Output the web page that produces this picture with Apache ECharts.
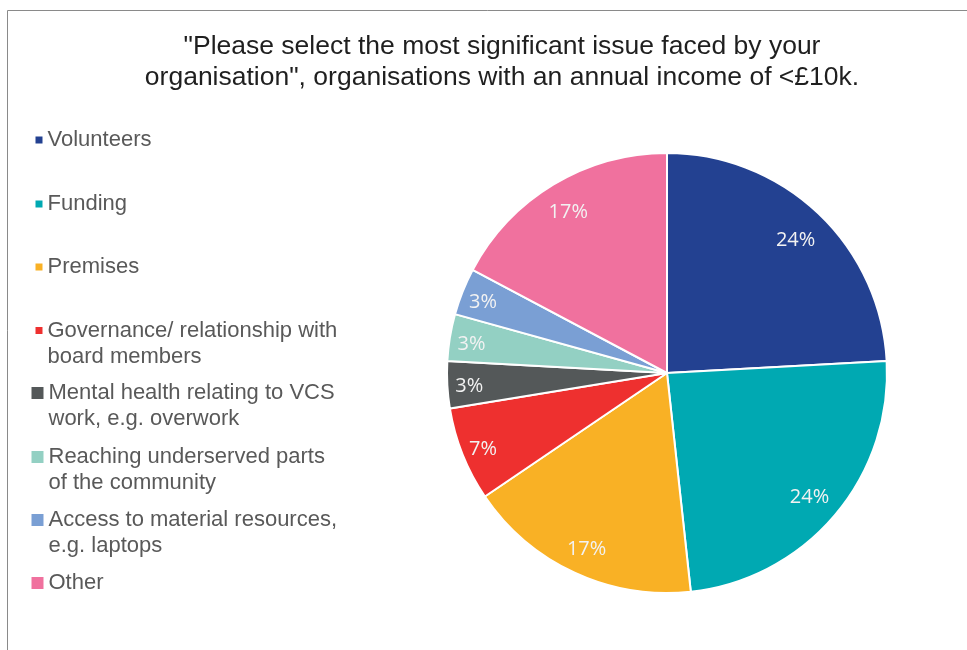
<!DOCTYPE html>
<html>
<head>
<meta charset="utf-8">
<title>Most significant issue, income under £10k</title>
<script src="https://cdn.jsdelivr.net/npm/echarts@6/dist/echarts.min.js"></script>
<style>
  html, body { margin: 0; padding: 0; background: #ffffff; }
  #chart { width: 967px; height: 650px; }
</style>
</head>
<body>
<div id="chart"></div>
<script>
// Survey categories (line breaks follow the legend wrapping)
const categories = [
  'Volunteers',
  'Funding',
  'Premises',
  'Governance/ relationship with\nboard members',
  'Mental health relating to VCS\nwork, e.g. overwork',
  'Reaching underserved parts\nof the community',
  'Access to material resources,\ne.g. laptops',
  'Other'
];
// Number of organisations choosing each issue
const responses = [7, 7, 5, 2, 1, 1, 1, 5];
const colors = ['#234191', '#00A9B2', '#F9B125', '#EE302F', '#545859', '#93D0C3', '#7A9FD4', '#F0719E'];

const titleText = '"Please select the most significant issue faced by your\norganisation", organisations with an annual income of <£10k.';

const pieCenter = [667, 373];
const pieRadius = 220;

// Legend layout: vertical centre of each entry's first line, and marker size
const legendLineCenters = [140, 204, 267, 330.5, 393, 457, 520, 583];
const legendIcon = [7, 7, 7, 7, 12, 12, 12, 12];
const LINE_H = 26;

const chart = echarts.init(document.getElementById('chart'), null, { renderer: 'canvas' });

const legends = categories.map(function (name, i) {
  const lines = name.split('\n').length;
  const s = legendIcon[i];
  const boxH = lines * LINE_H;
  // square marker aligned with the first text line; the two empty moves stretch
  // the marker box to the full height of the text block
  const top = LINE_H / 2 - s / 2;
  const iconPath = lines > 1
    ? 'path://M0,0L0,0M0,' + boxH + 'L0,' + boxH +
      'M0,' + top + 'H' + s + 'V' + (top + s) + 'H0Z'
    : 'rect';
  return {
    orient: 'vertical',
    left: s > 7 ? 31.5 : 35.5,
    top: legendLineCenters[i] - LINE_H / 2,
    padding: 0,
    itemWidth: s,
    itemHeight: lines > 1 ? boxH : s,
    icon: iconPath,
    itemStyle: { borderWidth: 0 },
    data: [name],
    textStyle: {
      fontFamily: 'Liberation Sans, Arial, sans-serif',
      fontSize: 22,
      lineHeight: LINE_H,
      color: '#595959'
    }
  };
});

const total = responses.reduce(function (a, b) { return a + b; }, 0);

const option = {
  backgroundColor: '#ffffff',
  animation: false,
  color: colors,
  title: {
    text: titleText,
    left: 502,
    textAlign: 'center',
    top: 31,
    padding: 0,
    textStyle: {
      fontFamily: 'Liberation Sans, Arial, sans-serif',
      fontSize: 26.5,
      fontWeight: 'normal',
      lineHeight: 31,
      color: '#1f1f1f'
    }
  },
  legend: legends,
  graphic: [{
    type: 'rect',
    silent: true,
    shape: { x: 7.5, y: 10.5, width: 1000, height: 700 },
    style: { fill: 'none', stroke: '#8a8a8a', lineWidth: 1 }
  }],
  series: [{
    type: 'pie',
    center: pieCenter,
    radius: [0, pieRadius],
    startAngle: 90,
    clockwise: true,
    avoidLabelOverlap: false,
    itemStyle: { borderColor: '#ffffff', borderWidth: 2 },
    label: {
      show: true,
      position: 'inside',
      color: '#f2f2f2',
      fontFamily: 'Open Sans, Noto Sans, sans-serif',
      fontSize: 20,
      formatter: function (p) { return Math.round(p.percent) + '%'; }
    },
    labelLine: { show: false },
    // move each inside label out along its slice's bisector, near the rim
    labelLayout: function (params) {
      const r = params.labelRect;
      const lx = r.x + r.width / 2;
      const ly = r.y + r.height / 2;
      const ang = Math.atan2(ly - pieCenter[1], lx - pieCenter[0]);
      const share = responses[params.dataIndex] / total;
      const ratio = share >= 0.2 ? 0.85 : (share >= 0.1 ? 0.87 : 0.9);
      const tx = pieCenter[0] + Math.cos(ang) * pieRadius * ratio;
      const ty = pieCenter[1] + Math.sin(ang) * pieRadius * ratio + 3;
      return { dx: tx - lx, dy: ty - ly };
    },
    emphasis: { scale: false },
    data: categories.map(function (name, i) {
      return { name: name, value: responses[i] };
    })
  }]
};

chart.setOption(option);
</script>
</body>
</html>
